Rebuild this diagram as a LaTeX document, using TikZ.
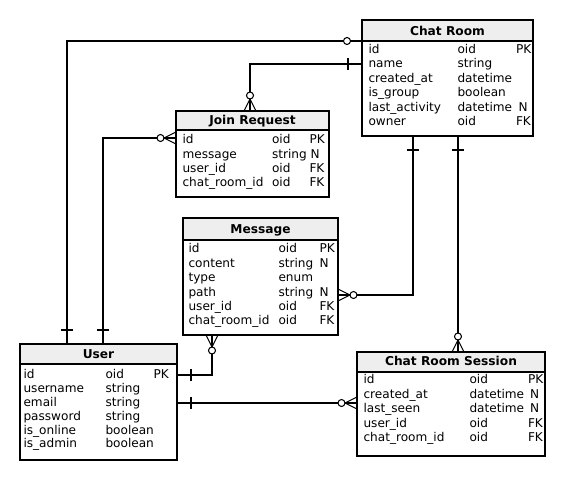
\documentclass[tikz,border=0pt]{standalone}
\usepackage{fontspec}
\setmainfont{DejaVu Sans}
\definecolor{hdrgray}{RGB}{238,238,238}
\begin{document}
\begin{tikzpicture}[x=1pt,y=-1pt,line width=1.05pt,
  holder/.style={draw,inner sep=0pt,outer sep=0pt},
  ttl/.style={anchor=base,inner sep=0pt,font=\fontsize{12.2}{14}\selectfont\bfseries},
  cell/.style={anchor=base west,inner sep=0pt,font=\fontsize{12.1}{14}\selectfont},
  tee/.pic={\draw (14,-6) -- (14,6);},
  ocirc/.pic={\draw[fill=white] (15,0) circle[radius=3.5pt];},
  crowo/.pic={\draw (12,0) -- (0,-6) (12,0) -- (0,6); \draw[fill=white] (15.5,0) circle[radius=3.5pt];}
]
\useasboundingbox[fill=white] (0,0) rectangle (565,483);

% ---------- Chat Room ----------
\node[holder,minimum width=171pt,minimum height=116pt] (cr) at (447.5,78) {};
\coordinate (crh) at (0,41);
\draw[fill=hdrgray] (cr.north west) rectangle (cr.east |- crh);
\node[ttl] (crt) at (447.5,35) {Chat Room};
\node[cell] (cr1a) at (368,53) {id};          \node[cell] (cr1b) at (457,53) {oid};      \node[cell] (cr1c) at (515.5,53) {PK};
\node[cell] (cr2a) at (368,67.5) {name};      \node[cell] (cr2b) at (457,67.5) {string};
\node[cell] (cr3a) at (368,82) {created\_at}; \node[cell] (cr3b) at (457,82) {datetime};
\node[cell] (cr4a) at (368,96.5) {is\_group}; \node[cell] (cr4b) at (457,96.5) {boolean};
\node[cell] (cr5a) at (368,111) {last\_activity}; \node[cell] (cr5b) at (457,111) {datetime}; \node[cell] (cr5c) at (518,111) {N};
\node[cell] (cr6a) at (368,125.5) {owner};    \node[cell] (cr6b) at (457,125.5) {oid};   \node[cell] (cr6c) at (515.5,125.5) {FK};

% ---------- Join Request ----------
\node[holder,minimum width=153pt,minimum height=86pt] (jr) at (252.5,154) {};
\coordinate (jrh) at (0,130);
\draw[fill=hdrgray] (jr.north west) rectangle (jr.east |- jrh);
\node[ttl] (jrt) at (252.5,124.5) {Join Request};
\node[cell] (jr1a) at (182,143.5) {id};       \node[cell] (jr1b) at (271.5,143.5) {oid};    \node[cell] (jr1c) at (309,143.5) {PK};
\node[cell] (jr2a) at (182,158) {message};    \node[cell] (jr2b) at (271.5,158) {string};   \node[cell] (jr2c) at (310,158) {N};
\node[cell] (jr3a) at (182,172) {user\_id};   \node[cell] (jr3b) at (271.5,172) {oid};      \node[cell] (jr3c) at (309,172) {FK};
\node[cell] (jr4a) at (182,186.5) {chat\_room\_id}; \node[cell] (jr4b) at (271.5,186.5) {oid}; \node[cell] (jr4c) at (309,186.5) {FK};

% ---------- Message ----------
\node[holder,minimum width=155pt,minimum height=117pt] (msg) at (260.5,276.5) {};
\coordinate (msgh) at (0,240);
\draw[fill=hdrgray] (msg.north west) rectangle (msg.east |- msgh);
\node[ttl] (msgt) at (260.5,233.3) {Message};
\node[cell] (m1a) at (188,252.7) {id};        \node[cell] (m1b) at (278,252.7) {oid};     \node[cell] (m1c) at (319,252.7) {PK};
\node[cell] (m2a) at (188,267.2) {content};   \node[cell] (m2b) at (278,267.2) {string};  \node[cell] (m2c) at (319,267.2) {N};
\node[cell] (m3a) at (188,281.6) {type};      \node[cell] (m3b) at (278,281.6) {enum};
\node[cell] (m4a) at (188,296) {path};        \node[cell] (m4b) at (278,296) {string};    \node[cell] (m4c) at (319,296) {N};
\node[cell] (m5a) at (188,310.2) {user\_id};  \node[cell] (m5b) at (278,310.2) {oid};     \node[cell] (m5c) at (319,310.2) {FK};
\node[cell] (m6a) at (188,324.5) {chat\_room\_id}; \node[cell] (m6b) at (278,324.5) {oid}; \node[cell] (m6c) at (319,324.5) {FK};

% ---------- User ----------
\node[holder,minimum width=157pt,minimum height=116pt] (u) at (98.5,402) {};
\coordinate (uh) at (0,364);
\draw[fill=hdrgray] (u.north west) rectangle (u.east |- uh);
\node[ttl] (ut) at (98.5,358.3) {User};
\node[cell] (u1a) at (23,378.3) {id};         \node[cell] (u1b) at (105,378.3) {oid};     \node[cell] (u1c) at (153,378.3) {PK};
\node[cell] (u2a) at (23,392.3) {username};   \node[cell] (u2b) at (105,392.3) {string};
\node[cell] (u3a) at (23,406.2) {email};      \node[cell] (u3b) at (105,406.2) {string};
\node[cell] (u4a) at (23,420) {password};     \node[cell] (u4b) at (105,420) {string};
\node[cell] (u5a) at (23,434) {is\_online};   \node[cell] (u5b) at (105,434) {boolean};
\node[cell] (u6a) at (23,447.8) {is\_admin};  \node[cell] (u6b) at (105,447.8) {boolean};

% ---------- Chat Room Session ----------
\node[holder,minimum width=188pt,minimum height=104pt] (crs) at (451,404) {};
\coordinate (crsh) at (0,372);
\draw[fill=hdrgray] (crs.north west) rectangle (crs.east |- crsh);
\node[ttl] (crst) at (451,365.7) {Chat Room Session};
\node[cell] (s1a) at (363,383.5) {id};          \node[cell] (s1b) at (469,383.5) {oid};      \node[cell] (s1c) at (527.5,383.5) {PK};
\node[cell] (s2a) at (363,398) {created\_at};   \node[cell] (s2b) at (469,398) {datetime};   \node[cell] (s2c) at (529.5,398) {N};
\node[cell] (s3a) at (363,412.5) {last\_seen};  \node[cell] (s3b) at (469,412.5) {datetime}; \node[cell] (s3c) at (529.5,412.5) {N};
\node[cell] (s4a) at (363,427) {user\_id};      \node[cell] (s4b) at (469,427) {oid};        \node[cell] (s4c) at (527.5,427) {FK};
\node[cell] (s5a) at (363,441.5) {chat\_room\_id}; \node[cell] (s5b) at (469,441.5) {oid};   \node[cell] (s5c) at (527.5,441.5) {FK};

% ---------- Connectors ----------
% User -- Chat Room (top)
\coordinate (k1) at (67,41);
\draw (u.north -| k1) -- (k1) -- (k1 -| cr.west);
\pic[rotate=90] at (u.north -| k1) {tee};
\pic[rotate=180] at (k1 -| cr.west) {ocirc};

% Chat Room -- Join Request
\coordinate (k2) at (250,64);
\draw (k2 -| cr.west) -- (k2) -- (k2 |- jr.north);
\pic[rotate=180] at (k2 -| cr.west) {tee};
\pic[rotate=90] at (k2 |- jr.north) {crowo};

% User -- Join Request
\coordinate (k3) at (103,138);
\draw (u.north -| k3) -- (k3) -- (k3 -| jr.west);
\pic[rotate=90] at (u.north -| k3) {tee};
\pic[rotate=180] at (k3 -| jr.west) {crowo};

% Message -- User
\coordinate (k4) at (212,375);
\draw (k4 |- msg.south) -- (k4) -- (k4 -| u.east);
\pic[rotate=-90] at (k4 |- msg.south) {crowo};
\pic[rotate=0] at (k4 -| u.east) {tee};

% Chat Room -- Message
\coordinate (k5) at (413,295);
\draw (k5 |- cr.south) -- (k5) -- (k5 -| msg.east);
\pic[rotate=-90] at (k5 |- cr.south) {tee};
\pic[rotate=0] at (k5 -| msg.east) {crowo};

% Chat Room -- Chat Room Session
\coordinate (k6) at (458,250);
\draw (k6 |- cr.south) -- (k6 |- crs.north);
\pic[rotate=-90] at (k6 |- cr.south) {tee};
\pic[rotate=90] at (k6 |- crs.north) {crowo};

% User -- Chat Room Session
\coordinate (k7) at (270,403);
\draw (k7 -| u.east) -- (k7 -| crs.west);
\pic[rotate=0] at (k7 -| u.east) {tee};
\pic[rotate=180] at (k7 -| crs.west) {crowo};
\end{tikzpicture}
\end{document}
